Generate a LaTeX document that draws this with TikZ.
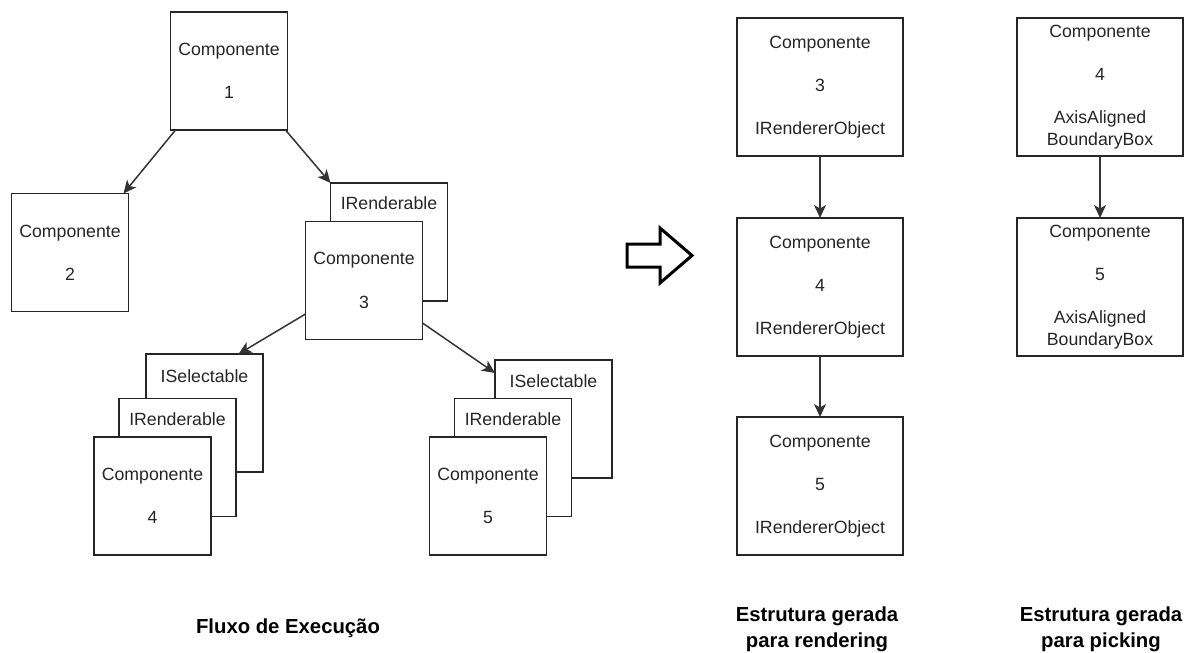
\documentclass[tikz,border=0pt]{standalone}
\usepackage{fontspec}
\setmainfont{Liberation Sans}
\usetikzlibrary{arrows.meta}
\begin{document}
\begin{tikzpicture}[x=1pt,y=-1pt,
  every node/.style={inner sep=0pt, outer sep=0pt},
  box/.style={draw=black!85, line width=1.5pt, fill=white, align=center,
    font=\fontsize{17.7}{21.6}\selectfont, text=black!85},
  smallbox/.style={box, minimum width=117pt, minimum height=118pt},
  bigbox/.style={box, minimum width=166pt, minimum height=138pt},
  tag/.style={font=\fontsize{17.7}{21.6}\selectfont, text=black!85},
  caption/.style={align=center, font=\fontsize{20.3}{26}\selectfont\bfseries, text=black},
  link/.style={draw=black!80, line width=1.5pt,
    -{Stealth[length=13pt, width=12pt, inset=3.5pt]}}
]
\useasboundingbox (0,0) rectangle (1184,653);

% ---- execution flow tree ----
\node[smallbox] (c1) at (229,71) {Componente\\[21.6pt]1};
\node[smallbox] (c2) at (70,252.5) {Componente\\[21.6pt]2};

% component 3 with its IRenderable layer behind
\node[smallbox] (r3) at (389,242) {};
\node[tag] (r3t) at (389,203) {IRenderable};
\node[smallbox] (c3) at (364,280.5) {Componente\\[21.6pt]3};

% component 4 with ISelectable and IRenderable layers
\node[smallbox] (s4) at (204.5,413) {};
\node[tag] (s4t) at (204.5,376) {ISelectable};
\node[smallbox] (r4) at (177.5,457.5) {};
\node[tag] (r4t) at (177.5,419) {IRenderable};
\node[smallbox] (c4) at (152.5,496) {Componente\\[21.6pt]4};

% component 5 with ISelectable and IRenderable layers
\node[smallbox] (s5) at (553.5,419) {};
\node[tag] (s5t) at (553.5,381) {ISelectable};
\node[smallbox] (r5) at (513,457.5) {};
\node[tag] (r5t) at (513,419) {IRenderable};
\node[smallbox] (c5) at (488,496) {Componente\\[21.6pt]5};

\draw[link] ([xshift=5pt]c1.south west) -- ([xshift=-5pt]c2.north east);
\draw[link] ([xshift=-2pt]c1.south east) -- (r3.north west);
\draw[link] ([yshift=-33.5pt]c3.west) -- ([xshift=34pt]s4.north);
\draw[link] ([yshift=-42.5pt]c3.east) -- ([yshift=46pt]s5.west);

\node[caption] (flow) at (288,628) {Fluxo de Execução};

% ---- transformation arrow ----
\draw[line width=3pt, line join=miter, draw=black]
  (627,244) -- (660,244) -- (660,228) -- (692,255.5) -- (660,283) -- (660,267) -- (627,267) -- cycle;

% ---- structure generated for rendering ----
\node[bigbox] (rc3) at (820,87) {Componente\\[21.6pt]3\\[21.6pt]IRendererObject};
\node[bigbox] (rc4) at (820,287) {Componente\\[21.6pt]4\\[21.6pt]IRendererObject};
\node[bigbox] (rc5) at (820,486) {Componente\\[21.6pt]5\\[21.6pt]IRendererObject};
\draw[link] (rc3.south) -- (rc4.north);
\draw[link] (rc4.south) -- (rc5.north);
\node[caption] (capr) at (817,629) {Estrutura gerada\\para rendering};

% ---- structure generated for picking ----
\node[bigbox] (pc4) at (1100,87) {Componente\\[21.6pt]4\\[21.6pt]AxisAligned\\BoundaryBox};
\node[bigbox] (pc5) at (1100,287) {Componente\\[21.6pt]5\\[21.6pt]AxisAligned\\BoundaryBox};
\draw[link] (pc4.south) -- (pc5.north);
\node[caption] (capp) at (1101,629) {Estrutura gerada\\para picking};
\end{tikzpicture}
\end{document}
